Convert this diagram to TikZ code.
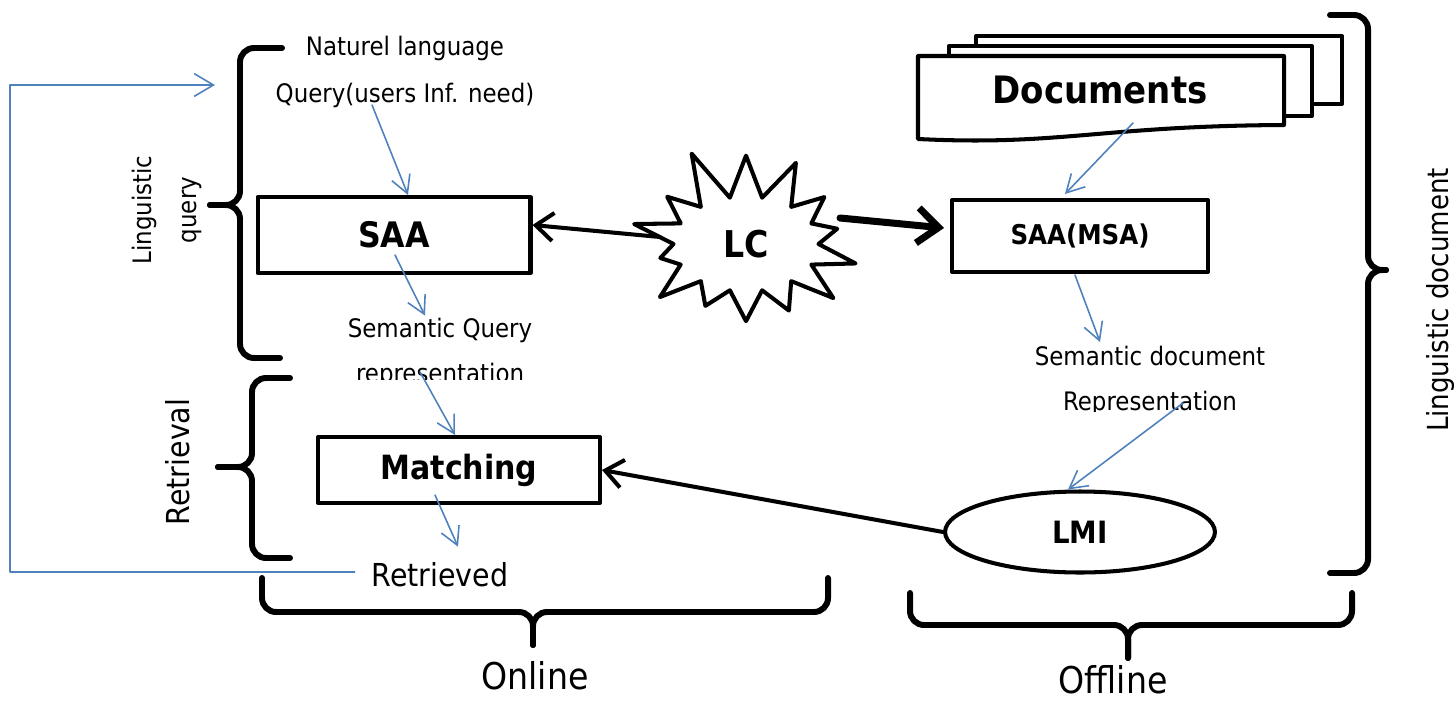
\documentclass[tikz,border=0pt]{standalone}
\usepackage{fontspec}
\setmainfont{DejaVu Sans Condensed}
\usetikzlibrary{arrows.meta,calc,shapes.geometric,shapes.symbols}
\definecolor{flowblue}{RGB}{79,129,189}
\begin{document}
\begin{tikzpicture}[x=0.02cm, y=-0.02cm, line join=round, line cap=round,
    box/.style={draw, line width=2.3pt, fill=white, inner sep=0pt, font=\bfseries\fontsize{20}{24}\selectfont},
    lbl/.style={inner sep=1pt, font=\fontsize{14.5}{17}\selectfont},
    big/.style={inner sep=1pt, font=\fontsize{21}{25}\selectfont},
    flow/.style={draw=flowblue, line width=0.9pt, -{Straight Barb[length=10pt,width=11pt]}},
    link/.style={line width=2.3pt, -{Straight Barb[length=10pt,width=16pt]}},
    brc/.style={line width=3.4pt, rounded corners=8pt}]
  \useasboundingbox (0,0) rectangle (1456,703);
  \draw[line width=2.3pt, fill=white] (976,36) rectangle (1342,104);
  \draw[line width=2.3pt, fill=white] (949,46) rectangle (1312,116);
  \draw[line width=2.3pt, fill=white] (918,56) -- (1284,56) -- (1284,125) .. controls (1100,126) and (1060,146) .. (918,139) -- cycle;
  \node[font=\bfseries\fontsize{21.5}{26}\selectfont] (docs) at (1100,90) {Documents};
  \node[lbl] (nat) at (405,48) {Naturel language};
  \node[lbl] (qry) at (405,95) {Query(users Inf. need)};
  \node[box, minimum width=5.46cm, minimum height=1.52cm] (saa) at (394,235) {SAA};
  \node[lbl] (semq) at (440,330) {Semantic Query};
  \begin{scope}
    \clip (300,360) rectangle (600,379);
    \node[lbl] (qrep) at (440,375) {representation};
  \end{scope}
  \node[box, minimum width=5.64cm, minimum height=1.32cm, font=\bfseries\fontsize{19}{23}\selectfont] (match) at (459,470) {Matching};
  \node[inner sep=1pt, font=\fontsize{18}{22}\selectfont] (retr) at (440,575) {Retrieved};
  \node[box, minimum width=5.12cm, minimum height=1.44cm, font=\bfseries\fontsize{15.5}{19}\selectfont] (msa) at (1080,236) {SAA(MSA)};
  \node[lbl] (sdoc) at (1150,356) {Semantic document};
  \begin{scope}
    \clip (1000,390) rectangle (1300,411);
    \node[lbl] (drep) at (1150,403) {Representation};
  \end{scope}
  \node[ellipse, draw, line width=2.3pt, minimum width=5.4cm, minimum height=1.62cm, font=\bfseries\fontsize{17.5}{21}\selectfont] (lmi) at (1080,532) {LMI};
  \node[starburst, draw, line width=2.3pt, fill=white, starburst points=14, starburst point height=1.1cm, random starburst=11, minimum width=5.1cm, minimum height=4.1cm, font=\bfseries\fontsize{21}{25}\selectfont] (lc) at (746,244) {LC};
  \node[rotate=90, align=center, font=\fontsize{14.5}{25.5}\selectfont] (lq) at (167,210) {Linguistic\\query};
  \node[rotate=90, font=\fontsize{18}{22}\selectfont] (rtv) at (178,462) {Retrieval};
  \node[rotate=90, font=\fontsize{16.5}{20}\selectfont] (ldoc) at (1440,300) {Linguistic document};
  \node[big] (onl) at (535,676) {Online};
  \node[big] (offl) at (1113,680) {Offline};
  \draw[brc] (282,48) -- (240,48) -- (240,205) -- (210,205);
  \draw[brc] (210,205) -- (240,205) -- (240,358) -- (280,358);
  \draw[brc] (290,378) -- (252,378) -- (252,467) -- (218,467);
  \draw[brc] (218,467) -- (252,467) -- (252,558) -- (290,558);
  \draw[brc] (262,578) -- (262,612) -- (533,612) -- (533,645);
  \draw[brc] (533,645) -- (533,612) -- (828,612) -- (828,578);
  \draw[brc] (910,593) -- (910,625) -- (1128,625) -- (1128,658);
  \draw[brc] (1128,658) -- (1128,625) -- (1352,625) -- (1352,593);
  \draw[brc] (1330,15) -- (1368,15) -- (1368,270) -- (1386,270);
  \draw[brc] (1386,270) -- (1368,270) -- (1368,573) -- (1330,573);
  \draw[flow] ($(qry)+(-33,10)$) -- ($(saa.north)+(14,0)$);
  \draw[flow] ($(saa)+(1,20)$) -- ($(semq.north)+(-15,0)$);
  \draw[flow] ($(qrep)+(-20,-3)$) -- ($(match.north)+(-4,0)$);
  \draw[flow] ($(match)+(-24,25)$) -- ($(retr.north)+(18,-14)$);
  \draw[flow] ($(docs)+(33,33)$) -- ($(msa.north)+(-15,-4)$);
  \draw[flow] ($(msa)+(-5,39)$) -- ($(sdoc.north)+(-50,-2)$);
  \draw[flow] ($(drep)+(33,0)$) -- ($(lmi.north)+(-12,0)$);
  \coordinate (fb) at (215,85);
  \draw[flow, -{Straight Barb[length=11pt,width=13pt]}] ($(retr.west)+(-15,-3)$) -| ($(fb)+(-205,0)$) -- (fb);
  \draw[link] ($(lc)+(-86,-7)$) -- ($(saa.east)+(0,-10)$);
  \draw[link, line width=4pt, -{Straight Barb[length=12pt,width=20pt]}] ($(lc)+(94,-26)$) -- ($(msa.west)+(-6,-8)$);
  \draw[link] (lmi.west) -- (match.east);
\end{tikzpicture}
\end{document}
